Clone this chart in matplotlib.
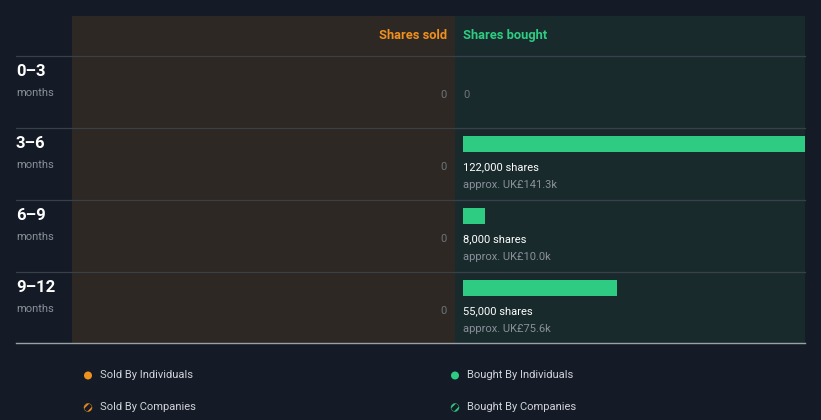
import matplotlib.pyplot as plt
from matplotlib.patches import Rectangle, Circle

plt.rcParams['font.family'] = ['Roboto', 'DejaVu Sans']
plt.rcParams['hatch.linewidth'] = 1.2

periods = ["0–3", "3–6", "6–9", "9–12"]
sold = [0, 0, 0, 0]
bought = [0, 122000, 8000, 55000]
bought_value = ["", "UK£141.3k", "UK£10.0k", "UK£75.6k"]

bg = "#151b26"
sold_bg = "#2d2823"
bought_bg = "#192a2d"
orange = "#f0901e"
green = "#2ecc82"
grid = "#3a4048"
grey = "#8a9099"

W, H = 821, 420
fig = plt.figure(figsize=(W / 100, H / 100), dpi=100, facecolor=bg)

# full-figure canvas in pixel units
cv = fig.add_axes([0, 0, 1, 1])
cv.set_xlim(0, W)
cv.set_ylim(H, 0)
cv.axis("off")

top, head, row_h, bottom = 16, 40, 72, 343
mid, left, right = 455, 72, 805

cv.add_patch(Rectangle((left, top), mid - left, bottom - top, color=sold_bg, lw=0))
cv.add_patch(Rectangle((mid, top), right - mid, bottom - top, color=bought_bg, lw=0))

cv.text(447, 35.5, "Shares sold", color=orange, fontsize=9.3, fontweight="bold", ha="right", va="center")
cv.text(463, 35.5, "Shares bought", color=green, fontsize=9.3, fontweight="bold", ha="left", va="center")

for i, p in enumerate(periods):
    y0 = top + head + row_h * i
    cv.plot([16, right], [y0, y0], color=grid, lw=0.9)
    cv.text(16, y0 + 15.5, p, color="white", fontsize=12, fontweight="bold", ha="left", va="center")
    cv.text(16, y0 + 37, "months", color=grey, fontsize=8, ha="left", va="center")
    cv.text(447, y0 + 39, f"{sold[i]:,}", color="#6f747b", fontsize=8, ha="right", va="center")
cv.plot([16, right], [bottom, bottom], color="#9aa0a8", lw=1)

# legend
items = [("Sold By Individuals", orange, 88, 375.5, False),
         ("Bought By Individuals", green, 455, 375.5, False),
         ("Sold By Companies", orange, 88, 407.5, True),
         ("Bought By Companies", green, 455, 407.5, True)]
for label, c, x, y, hatched in items:
    if hatched:
        cv.add_patch(Circle((x, y), 4, facecolor=bg, edgecolor=c, hatch="////", lw=0.3))
    else:
        cv.add_patch(Circle((x, y), 4, color=c, lw=0))
    cv.text(x + 12, y, label, color="#d0d3d8", fontsize=8, ha="left", va="center")

# bought bars on a data axes over the bought panel
ax = fig.add_axes([mid / W, 1 - bottom / H, (right - mid) / W, (bottom - top) / H])
ax.patch.set_alpha(0)
ax.axis("off")
ax.set_xlim(-122000 * 8 / 342, 122000)
ax.set_ylim(bottom - top, 0)
ys = [head + row_h * i + 16 for i in range(len(periods))]
ax.barh(ys, bought, height=16, left=0, color=green)
for y, b, v in zip(ys, bought, bought_value):
    if b == 0:
        ax.text(0, y + 23, "0", color="#6f747b", fontsize=8, ha="left", va="center")
    else:
        ax.text(0, y + 23, f"{b:,} shares", color="white", fontsize=8, ha="left", va="center")
        ax.text(0, y + 41, f"approx. {v}", color=grey, fontsize=8, ha="left", va="center")

fig.savefig("out.png", dpi=100, facecolor=bg)
